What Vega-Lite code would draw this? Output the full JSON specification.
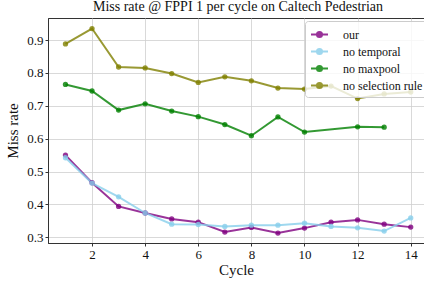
{
  "$schema": "https://vega.github.io/schema/vega-lite/v6.json",
  "autosize": "none",
  "width": 376,
  "height": 225,
  "padding": {"left": 48, "top": 18, "right": 0, "bottom": 38},
  "background": "white",
  "title": {
    "text": "Miss rate @ FPPI 1 per cycle on Caltech Pedestrian",
    "font": "Liberation Serif",
    "fontSize": 14,
    "fontWeight": "normal",
    "color": "#111",
    "anchor": "middle",
    "offset": 4,
    "dx": 2
  },
  "data": {
    "values": [
      {"cycle": 1, "rate": 0.550, "series": "our"},
      {"cycle": 2, "rate": 0.466, "series": "our"},
      {"cycle": 3, "rate": 0.394, "series": "our"},
      {"cycle": 4, "rate": 0.374, "series": "our"},
      {"cycle": 5, "rate": 0.356, "series": "our"},
      {"cycle": 6, "rate": 0.346, "series": "our"},
      {"cycle": 7, "rate": 0.316, "series": "our"},
      {"cycle": 8, "rate": 0.330, "series": "our"},
      {"cycle": 9, "rate": 0.313, "series": "our"},
      {"cycle": 10, "rate": 0.328, "series": "our"},
      {"cycle": 11, "rate": 0.346, "series": "our"},
      {"cycle": 12, "rate": 0.353, "series": "our"},
      {"cycle": 13, "rate": 0.340, "series": "our"},
      {"cycle": 14, "rate": 0.331, "series": "our"},
      {"cycle": 1, "rate": 0.542, "series": "no temporal"},
      {"cycle": 2, "rate": 0.465, "series": "no temporal"},
      {"cycle": 3, "rate": 0.423, "series": "no temporal"},
      {"cycle": 4, "rate": 0.374, "series": "no temporal"},
      {"cycle": 5, "rate": 0.340, "series": "no temporal"},
      {"cycle": 6, "rate": 0.339, "series": "no temporal"},
      {"cycle": 7, "rate": 0.333, "series": "no temporal"},
      {"cycle": 8, "rate": 0.337, "series": "no temporal"},
      {"cycle": 9, "rate": 0.337, "series": "no temporal"},
      {"cycle": 10, "rate": 0.343, "series": "no temporal"},
      {"cycle": 11, "rate": 0.333, "series": "no temporal"},
      {"cycle": 12, "rate": 0.329, "series": "no temporal"},
      {"cycle": 13, "rate": 0.319, "series": "no temporal"},
      {"cycle": 14, "rate": 0.359, "series": "no temporal"},
      {"cycle": 1, "rate": 0.765, "series": "no maxpool"},
      {"cycle": 2, "rate": 0.745, "series": "no maxpool"},
      {"cycle": 3, "rate": 0.687, "series": "no maxpool"},
      {"cycle": 4, "rate": 0.706, "series": "no maxpool"},
      {"cycle": 5, "rate": 0.684, "series": "no maxpool"},
      {"cycle": 6, "rate": 0.667, "series": "no maxpool"},
      {"cycle": 7, "rate": 0.643, "series": "no maxpool"},
      {"cycle": 8, "rate": 0.609, "series": "no maxpool"},
      {"cycle": 9, "rate": 0.666, "series": "no maxpool"},
      {"cycle": 10, "rate": 0.620, "series": "no maxpool"},
      {"cycle": 12, "rate": 0.636, "series": "no maxpool"},
      {"cycle": 13, "rate": 0.635, "series": "no maxpool"},
      {"cycle": 1, "rate": 0.888, "series": "no selection rule"},
      {"cycle": 2, "rate": 0.935, "series": "no selection rule"},
      {"cycle": 3, "rate": 0.818, "series": "no selection rule"},
      {"cycle": 4, "rate": 0.815, "series": "no selection rule"},
      {"cycle": 5, "rate": 0.798, "series": "no selection rule"},
      {"cycle": 6, "rate": 0.771, "series": "no selection rule"},
      {"cycle": 7, "rate": 0.788, "series": "no selection rule"},
      {"cycle": 8, "rate": 0.776, "series": "no selection rule"},
      {"cycle": 9, "rate": 0.754, "series": "no selection rule"},
      {"cycle": 10, "rate": 0.751, "series": "no selection rule"},
      {"cycle": 11, "rate": 0.760, "series": "no selection rule"},
      {"cycle": 12, "rate": 0.722, "series": "no selection rule"},
      {"cycle": 13, "rate": 0.736, "series": "no selection rule"},
      {"cycle": 14, "rate": 0.742, "series": "no selection rule"}
    ]
  },
  "encoding": {
    "x": {
      "field": "cycle",
      "type": "quantitative",
      "scale": {"domain": [0.342, 14.5], "nice": false, "zero": false},
      "axis": {
        "title": "Cycle",
        "values": [2, 4, 6, 8, 10, 12, 14],
        "titleFontSize": 15,
        "titlePadding": 1
      }
    },
    "y": {
      "field": "rate",
      "type": "quantitative",
      "scale": {"domain": [0.2827, 0.967], "nice": false, "zero": false},
      "axis": {
        "title": "Miss rate",
        "values": [0.3, 0.4, 0.5, 0.6, 0.7, 0.8, 0.9],
        "format": ".1f",
        "titleFontSize": 15,
        "titlePadding": 6
      }
    },
    "color": {
      "field": "series",
      "type": "nominal",
      "scale": {
        "domain": ["our", "no temporal", "no maxpool", "no selection rule"],
        "range": ["#800080", "#87ceeb", "#008000", "#808000"]
      },
      "legend": {"title": null}
    }
  },
  "layer": [
    {
      "mark": {"type": "line", "strokeWidth": 2, "opacity": 0.8},
      "encoding": {"detail": {"field": "series"}}
    },
    {
      "mark": {"type": "point", "filled": true, "size": 28, "opacity": 0.8}
    }
  ],
  "config": {
    "font": "Liberation Serif",
    "view": {"stroke": "#333", "strokeWidth": 1},
    "axis": {
      "labelFont": "Liberation Serif",
      "titleFont": "Liberation Serif",
      "labelFontSize": 13,
      "labelColor": "#111",
      "titleColor": "#111",
      "titleFontWeight": "normal",
      "domainColor": "#333",
      "tickColor": "#333",
      "tickSize": 3,
      "labelPadding": 2,
      "gridColor": "#cfcfcf",
      "gridWidth": 0.8
    },
    "legend": {
      "orient": "none",
      "legendX": 257,
      "legendY": 3,
      "fillColor": "rgba(255,255,255,0.8)",
      "strokeColor": "#cccccc",
      "cornerRadius": 3,
      "padding": 4,
      "rowPadding": 0,
      "symbolOffset": 1,
      "labelFont": "Liberation Serif",
      "labelFontSize": 12,
      "labelColor": "#111",
      "labelOffset": 14,
      "symbolType": "M-1,0H1M-0.3,0A0.3,0.3 0 1,1 0.3,0A0.3,0.3 0 1,1 -0.3,0Z",
      "symbolSize": 289,
      "symbolStrokeWidth": 2,
      "symbolOpacity": 0.8
    }
  }
}
